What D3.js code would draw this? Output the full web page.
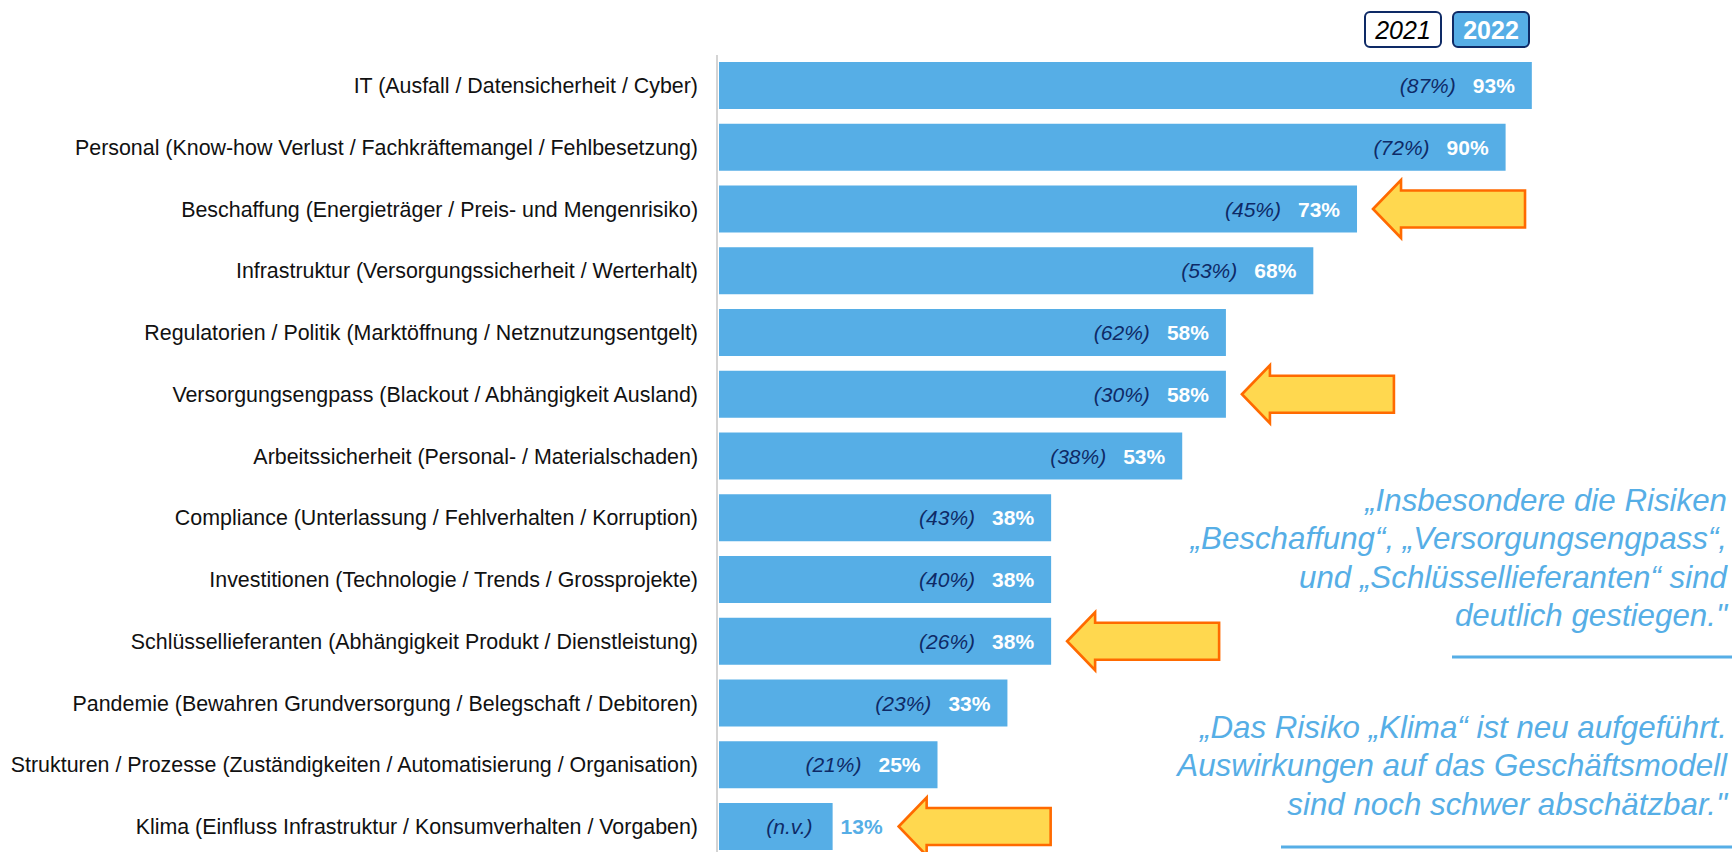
<!DOCTYPE html>
<html>
<head>
<meta charset="utf-8">
<script src="https://cdn.jsdelivr.net/npm/d3@7"></script>
<style>
  body { margin: 0; background: #fff; }
  svg { display: block; font-family: Arial, "Liberation Sans", sans-serif; }
</style>
</head>
<body>
<div id="chart"></div>
<script>
// Risiken 2022 vs. 2021
var categories = [
  "IT (Ausfall / Datensicherheit / Cyber)",
  "Personal (Know-how Verlust / Fachkräftemangel / Fehlbesetzung)",
  "Beschaffung (Energieträger / Preis- und Mengenrisiko)",
  "Infrastruktur (Versorgungssicherheit / Werterhalt)",
  "Regulatorien / Politik (Marktöffnung / Netznutzungsentgelt)",
  "Versorgungsengpass (Blackout / Abhängigkeit Ausland)",
  "Arbeitssicherheit (Personal- / Materialschaden)",
  "Compliance (Unterlassung / Fehlverhalten / Korruption)",
  "Investitionen (Technologie / Trends / Grossprojekte)",
  "Schlüssellieferanten (Abhängigkeit Produkt / Dienstleistung)",
  "Pandemie (Bewahren Grundversorgung / Belegschaft / Debitoren)",
  "Strukturen / Prozesse (Zuständigkeiten / Automatisierung / Organisation)",
  "Klima (Einfluss Infrastruktur / Konsumverhalten / Vorgaben)"
];
var values2022 = [93, 90, 73, 68, 58, 58, 53, 38, 38, 38, 33, 25, 13];
var values2021 = [87, 72, 45, 53, 62, 30, 38, 43, 40, 26, 23, 21, null];
var years = ["2021", "2022"];
// Risiken mit deutlichem Anstieg / neu
var highlighted = [
  "Beschaffung (Energieträger / Preis- und Mengenrisiko)",
  "Versorgungsengpass (Blackout / Abhängigkeit Ausland)",
  "Schlüssellieferanten (Abhängigkeit Produkt / Dienstleistung)",
  "Klima (Einfluss Infrastruktur / Konsumverhalten / Vorgaben)"
];
var quote1 = [
  "„Insbesondere die Risiken",
  "„Beschaffung“, „Versorgungsengpass“,",
  "und „Schlüssellieferanten“ sind",
  "deutlich gestiegen.\""
];
var quote2 = [
  "„Das Risiko „Klima“ ist neu aufgeführt.",
  "Auswirkungen auf das Geschäftsmodell",
  "sind noch schwer abschätzbar.\""
];

var width = 1732, height = 852;
var blue = "#56aee6", navy = "#0e2a66";

var svg = d3.select("#chart").append("svg")
  .attr("width", width)
  .attr("height", height);

var x = d3.scaleLinear().domain([0, 100]).range([719, 1593]);
var y = d3.scaleBand().domain(categories).range([62, 850]).paddingInner(0.239).paddingOuter(0);

var rows = categories.map(function (c, i) {
  return { cat: c, v22: values2022[i], v21: values2021[i] };
});

// axis line
svg.append("line")
  .attr("x1", 717).attr("x2", 717)
  .attr("y1", 55).attr("y2", height)
  .attr("stroke", "#d4d4d4").attr("stroke-width", 2);

// bars
svg.selectAll(".bar").data(rows).enter().append("rect")
  .attr("class", "bar")
  .attr("x", x(0))
  .attr("y", function (d) { return y(d.cat); })
  .attr("width", function (d) { return x(d.v22) - x(0); })
  .attr("height", y.bandwidth())
  .attr("fill", blue);

// category labels
svg.selectAll(".cat").data(rows).enter().append("text")
  .attr("class", "cat")
  .attr("x", 698)
  .attr("y", function (d) { return y(d.cat) + y.bandwidth() / 2; })
  .attr("dy", "0.36em")
  .attr("text-anchor", "end")
  .style("font-size", "21.4px")
  .attr("fill", "#111")
  .text(function (d) { return d.cat; });

// value labels: 2022 bold, 2021 italic in brackets
var labelEnds = {};
rows.forEach(function (d) {
  var cy = y(d.cat) + y.bandwidth() / 2;
  var inside = x(d.v22) - x(0) > 120;
  var t22 = svg.append("text")
    .attr("y", cy).attr("dy", "0.36em")
    .style("font-size", "21px").style("font-weight", "bold")
    .attr("fill", inside ? "#fff" : blue)
    .text(d.v22 + "%");
  var w22 = t22.node().getComputedTextLength();
  var start22;
  if (inside) {
    t22.attr("x", x(d.v22) - 17).attr("text-anchor", "end");
    start22 = x(d.v22) - 17 - w22;
    labelEnds[d.cat] = x(d.v22);
  } else {
    t22.attr("x", x(d.v22) + 8).attr("text-anchor", "start");
    start22 = x(0);
    labelEnds[d.cat] = x(d.v22) + 8 + w22;
  }
  var lab21 = d.v21 == null ? "(n.v.)" : "(" + d.v21 + "%)";
  svg.append("text")
    .attr("x", inside ? start22 - 17 : x(d.v22) - 20)
    .attr("y", cy).attr("dy", "0.36em")
    .attr("text-anchor", "end")
    .style("font-size", "21px").style("font-style", "italic")
    .attr("fill", navy)
    .text(lab21);
});

// arrows
var headLen = 28, headH = 29, shaftH = 18.5, arrowLen = 152;
highlighted.forEach(function (c) {
  var tx = labelEnds[c] + 16;
  var cy = y(c) + y.bandwidth() / 2;
  var pts = [
    [tx, cy],
    [tx + headLen, cy - headH],
    [tx + headLen, cy - shaftH],
    [tx + arrowLen, cy - shaftH],
    [tx + arrowLen, cy + shaftH],
    [tx + headLen, cy + shaftH],
    [tx + headLen, cy + headH]
  ];
  svg.append("path")
    .attr("d", "M" + pts.join("L") + "Z")
    .attr("fill", "#ffd84f")
    .attr("stroke", "#ff6a00")
    .attr("stroke-width", 2.6)
    .attr("stroke-linejoin", "miter");
});

// legend boxes
var legend = svg.selectAll(".leg").data(years).enter().append("g")
  .attr("class", "leg")
  .attr("transform", function (d, i) { return "translate(" + (1365 + i * 88) + ",12)"; });
legend.append("rect")
  .attr("width", 76).attr("height", 35)
  .attr("rx", 5)
  .attr("fill", function (d, i) { return i == 0 ? "#fff" : blue; })
  .attr("stroke", navy).attr("stroke-width", 2);
legend.append("text")
  .attr("x", 38).attr("y", 18).attr("dy", "0.36em")
  .attr("text-anchor", "middle")
  .style("font-size", "25px")
  .style("font-style", function (d, i) { return i == 0 ? "italic" : "normal"; })
  .style("font-weight", function (d, i) { return i == 0 ? "normal" : "bold"; })
  .attr("fill", function (d, i) { return i == 0 ? "#000" : "#fff"; })
  .text(function (d) { return d; });

// quotes on the right
function quote(lines, firstBaseline, lineY, lineX) {
  svg.selectAll(null).data(lines).enter().append("text")
    .attr("x", 1727)
    .attr("y", function (d, i) { return firstBaseline + i * 38.4; })
    .attr("text-anchor", "end")
    .style("font-size", "31.3px").style("font-style", "italic")
    .attr("fill", blue)
    .text(function (d) { return d; });
  svg.append("line")
    .attr("x1", lineX).attr("x2", width)
    .attr("y1", lineY).attr("y2", lineY)
    .attr("stroke", blue).attr("stroke-width", 3);
}
quote(quote1, 511, 657, 1452);
quote(quote2, 738, 847, 1281);
</script>
</body>
</html>
